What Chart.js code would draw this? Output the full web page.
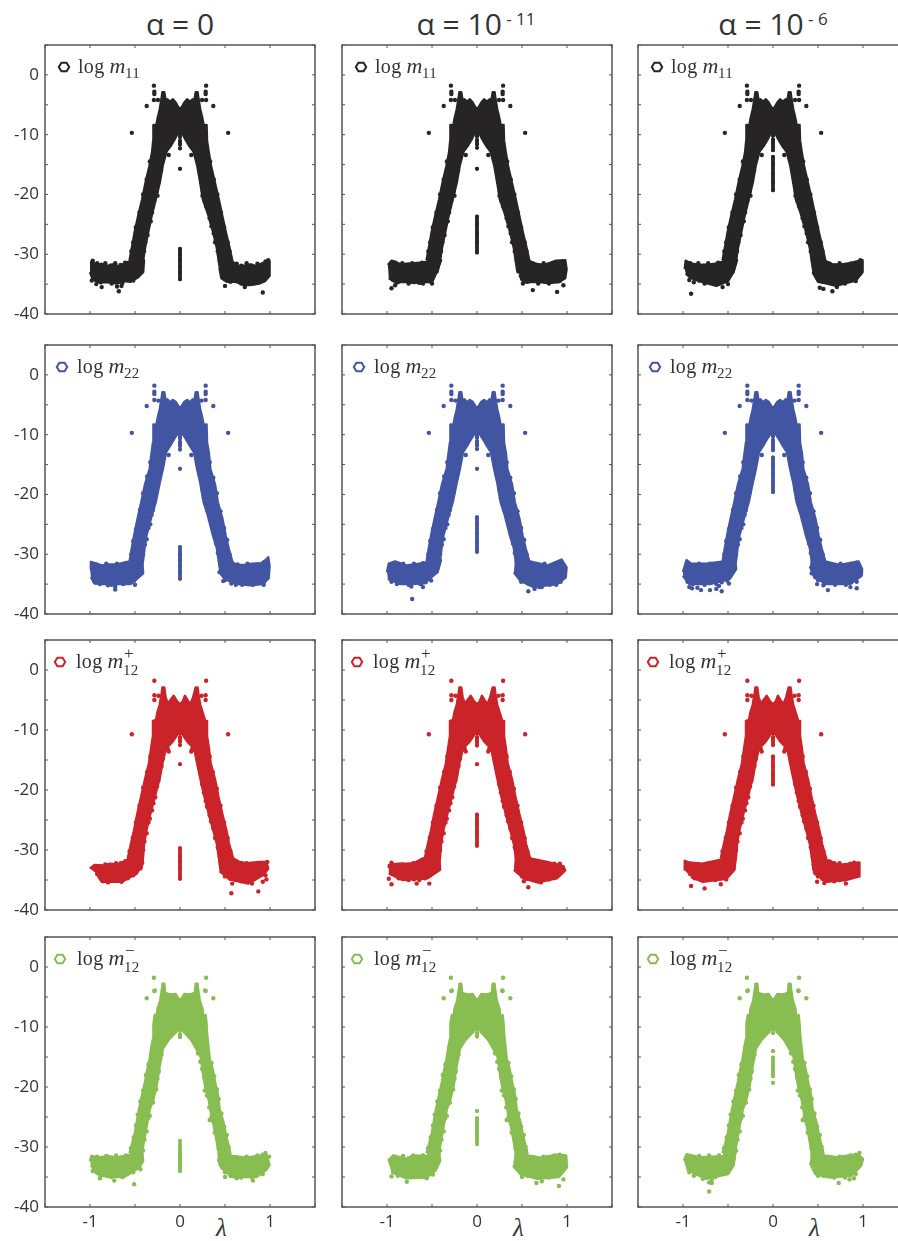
<!DOCTYPE html>
<html>
<head>
<meta charset="utf-8">
<title>log m scatter panels</title>
<script src="https://cdn.jsdelivr.net/npm/chart.js@4"></script>
<style>
  html, body { margin: 0; padding: 0; background: #fff; }
  #page { position: relative; width: 898px; height: 1241px; overflow: hidden; }
  #page canvas { position: absolute; }
  .title { position: absolute; top: 3px; width: 240px; text-align: center; font: 30px "Open Sans", sans-serif; color: #333; white-space: nowrap; }
  .title sup { font-size: 17px; vertical-align: 10px; line-height: 0; }
  .legend { position: absolute; font: 20px "Liberation Serif", serif; color: #333; white-space: nowrap; line-height: 24px; letter-spacing: 0.3px; }
  .legend i { margin-left: 5px; font-size: 22px; }
  .legend .ss { position: absolute; font-size: 15px; line-height: 14px; }
  .lambda { position: absolute; top: 1214px; font: italic 25px "Liberation Serif", serif; color: #333; }
  svg { position: absolute; }
</style>
</head>
<body>
<div id="page"></div>
<script>
// axis ticks
const xTicks = [-1, 0, 1];
const yTicks = [-40, -30, -20, -10, 0];

// headers and legends
const columnTitles = ["\u03b1 = 0", "\u03b1 = 10<sup>&nbsp;- 11</sup>", "\u03b1 = 10<sup>&nbsp;- 6</sup>"];
const rowSubs = ["11", "22", "12", "12"];
const rowSups = ["", "", "+", "\u2212"];
const rowColors = ["#262425", "#4255a2", "#ca2329", "#88bd51"];

// silhouette of the dense cloud, read per row
const m11Core = [[-0.56,-31],[-0.53,-28.6],[-0.505,-26.4],[-0.47,-24],[-0.42,-20.8],[-0.385,-18.2],[-0.34,-15.3],[-0.31,-13],[-0.297,-11],[-0.295,-8.4],[-0.285,-8.4],[-0.27,-9],[-0.25,-7.4],[-0.225,-5.8],[-0.205,-4],[-0.195,-2.9],[-0.175,-2.9],[-0.16,-4.3],[-0.14,-4.1],[-0.11,-4.5],[-0.08,-4.1],[-0.05,-4.6],[-0.02,-5.4],[0,-5.7],[0.02,-5.4],[0.05,-4.6],[0.08,-4.1],[0.11,-4.5],[0.14,-4.1],[0.16,-4.3],[0.175,-2.9],[0.195,-2.9],[0.205,-4],[0.225,-5.8],[0.25,-7.4],[0.27,-9],[0.285,-8.4],[0.295,-8.4],[0.3,-11],[0.32,-13],[0.345,-15.3],[0.39,-18.2],[0.43,-20.8],[0.475,-24],[0.51,-26.4],[0.545,-28.6],[0.58,-31],[0.52,-33],[0.45,-33],[0.43,-31],[0.41,-29],[0.37,-26.4],[0.31,-23.2],[0.255,-20.8],[0.225,-18],[0.19,-15],[0.15,-12.8],[0.1,-11.8],[0.06,-10.8],[0.035,-10],[0.015,-9.5],[0,-9.7],[-0.015,-9.5],[-0.035,-10],[-0.06,-10.8],[-0.1,-11.8],[-0.15,-12.8],[-0.19,-15],[-0.225,-18],[-0.27,-20.8],[-0.31,-23.2],[-0.355,-26.4],[-0.39,-29],[-0.41,-31],[-0.44,-33],[-0.52,-33]];
const m22Core = [[-0.56,-31.2],[-0.535,-29],[-0.51,-26.9],[-0.47,-24],[-0.43,-21.3],[-0.39,-18.4],[-0.337,-15.7],[-0.315,-13],[-0.3,-11.3],[-0.295,-8.3],[-0.285,-8.3],[-0.27,-9],[-0.25,-7.4],[-0.225,-5.8],[-0.205,-4],[-0.195,-2.9],[-0.175,-2.9],[-0.16,-4.4],[-0.14,-4.1],[-0.11,-4.6],[-0.08,-4.2],[-0.05,-4.5],[-0.02,-5.2],[0,-5.6],[0.02,-5.2],[0.05,-4.5],[0.08,-4.2],[0.11,-4.6],[0.14,-4.1],[0.16,-4.4],[0.175,-2.9],[0.195,-2.9],[0.205,-4],[0.225,-5.8],[0.25,-7.4],[0.27,-9],[0.285,-8.3],[0.295,-8.3],[0.3,-11.3],[0.32,-13],[0.337,-15.7],[0.39,-18.4],[0.42,-21.3],[0.47,-24],[0.507,-26.9],[0.54,-29],[0.58,-31.2],[0.52,-33],[0.45,-33],[0.43,-31],[0.41,-29],[0.367,-26.9],[0.31,-23.5],[0.263,-21.3],[0.225,-18],[0.19,-15.7],[0.155,-12.9],[0.1,-11.6],[0.065,-10.7],[0.035,-10],[0.015,-9.6],[0,-9.8],[-0.015,-9.6],[-0.035,-10],[-0.065,-10.7],[-0.1,-11.6],[-0.155,-12.9],[-0.19,-15.7],[-0.225,-18],[-0.27,-21.3],[-0.32,-23.8],[-0.374,-26.9],[-0.395,-29],[-0.41,-31],[-0.44,-33],[-0.52,-33]];
const m12pCore = [[-0.58,-31.4],[-0.545,-29],[-0.51,-26.7],[-0.475,-24],[-0.43,-21],[-0.39,-18.3],[-0.344,-15.5],[-0.32,-13],[-0.3,-11],[-0.3,-8.5],[-0.265,-8.3],[-0.25,-7],[-0.225,-5.8],[-0.205,-4],[-0.195,-2.9],[-0.175,-2.9],[-0.16,-4.6],[-0.13,-5.7],[-0.115,-5.2],[-0.07,-4.3],[-0.03,-5.3],[0,-5.7],[0.03,-5.3],[0.055,-4.3],[0.09,-5.2],[0.115,-5.7],[0.145,-4.6],[0.175,-2.9],[0.195,-2.9],[0.205,-4.1],[0.225,-5.8],[0.25,-7],[0.28,-8.5],[0.3,-8.5],[0.3,-11],[0.32,-13],[0.34,-15.5],[0.39,-18.3],[0.425,-21],[0.47,-24],[0.515,-26.7],[0.545,-29],[0.59,-31.4],[0.52,-33.2],[0.45,-33.2],[0.43,-31],[0.41,-29],[0.37,-26.7],[0.32,-24],[0.27,-21],[0.225,-18],[0.19,-15.5],[0.165,-13.6],[0.13,-12.7],[0.08,-11.9],[0.04,-11],[0.015,-10.2],[0,-10.6],[-0.015,-10.2],[-0.04,-11],[-0.08,-11.9],[-0.13,-12.7],[-0.165,-13.6],[-0.195,-15.5],[-0.225,-18],[-0.278,-21],[-0.33,-24],[-0.374,-26.7],[-0.4,-29],[-0.41,-31],[-0.43,-33.2],[-0.52,-33.2]];
const m12mCore = [[-0.56,-31],[-0.53,-29.4],[-0.5,-27.6],[-0.48,-25.8],[-0.455,-23.7],[-0.425,-21.6],[-0.39,-19.2],[-0.365,-17.2],[-0.337,-15.3],[-0.32,-13.5],[-0.3,-12],[-0.295,-9.5],[-0.28,-8],[-0.265,-9.2],[-0.25,-7],[-0.22,-5.6],[-0.2,-3.6],[-0.195,-2.8],[-0.175,-2.8],[-0.165,-4.3],[-0.13,-4.5],[-0.09,-4.6],[-0.05,-4.5],[-0.02,-5.2],[0,-5.6],[0.02,-5.2],[0.05,-4.5],[0.09,-4.6],[0.13,-4.5],[0.165,-4.3],[0.175,-2.8],[0.195,-2.8],[0.2,-3.6],[0.22,-5.6],[0.25,-7],[0.265,-9.2],[0.285,-8],[0.295,-9.5],[0.3,-11],[0.33,-15.3],[0.365,-17.2],[0.39,-19.2],[0.425,-21.6],[0.44,-23.7],[0.485,-26],[0.51,-28],[0.56,-31],[0.52,-33],[0.44,-33],[0.43,-31],[0.41,-29.2],[0.38,-26.8],[0.35,-24.8],[0.32,-22.2],[0.285,-20.3],[0.255,-17.8],[0.23,-15],[0.18,-13.6],[0.125,-12.2],[0.08,-11.4],[0.04,-10.8],[0.015,-9.6],[0,-10],[-0.015,-9.6],[-0.04,-10.8],[-0.08,-11.4],[-0.13,-12.2],[-0.19,-13.6],[-0.225,-16.4],[-0.26,-19.8],[-0.295,-22],[-0.335,-23.7],[-0.37,-26.4],[-0.41,-29.8],[-0.42,-31],[-0.44,-33],[-0.52,-33]];

// rough edge of the cloud, slopes and tails
const m11Bumps = [[-0.4,-29.5],[-0.385,-28],[-0.36,-26.8],[-0.35,-25],[-0.325,-24.5],[-0.31,-23],[-0.3,-22],[-0.285,-21],[-0.26,-19.5],[-0.25,-18.2],[-0.235,-17.5],[-0.21,-16],[-0.195,-14.5],[0.42,-29.5],[0.39,-28],[0.375,-26.5],[0.35,-25.3],[0.33,-24],[0.32,-23],[0.29,-22],[0.27,-21],[0.255,-19.5],[0.24,-18],[0.23,-16.5],[0.2,-15],[-0.54,-29.5],[-0.52,-28],[-0.49,-25.5],[-0.45,-23],[-0.41,-20],[-0.37,-17.5],[-0.335,-14.5],[0.55,-29.5],[0.53,-28],[0.49,-25.5],[0.455,-23],[0.415,-20],[0.375,-17.5],[0.335,-14.5],[-0.92,-31.5],[-0.88,-31.9],[-0.83,-31.5],[-0.77,-31.9],[-0.72,-31.5],[-0.66,-31.8],[-0.61,-31.4],[0.63,-31.6],[0.68,-31.9],[0.74,-31.5],[0.8,-31.9],[0.86,-31.6],[0.92,-31.7],[-0.93,-34.3],[-0.88,-34.7],[-0.82,-34.4],[-0.76,-34.9],[-0.7,-34.4],[-0.64,-34.8],[-0.58,-34.3],[-0.52,-34.4],[0.5,-34.1],[0.56,-34.6],[0.62,-34.4],[0.68,-34.9],[0.74,-34.5],[0.8,-34.9],[0.86,-34.4],[0.92,-34.5]];
const m22Bumps = [[-0.41,-30],[-0.39,-28.4],[-0.37,-27.5],[-0.35,-25.6],[-0.33,-25],[-0.315,-23.4],[-0.3,-22.6],[-0.28,-21],[-0.265,-19.8],[-0.245,-18.6],[-0.23,-17.2],[-0.215,-16.4],[-0.2,-14.6],[0.42,-29.8],[0.4,-28.2],[0.37,-26.2],[0.35,-25],[0.335,-24.3],[0.31,-22.8],[0.295,-22],[0.265,-20.6],[0.25,-19.2],[0.24,-17.6],[0.22,-16.8],[0.2,-14.8],[-0.54,-30],[-0.52,-27.8],[-0.49,-25.8],[-0.445,-22.6],[-0.41,-19.8],[-0.365,-17],[-0.33,-14.6],[0.55,-30],[0.525,-27.6],[0.49,-25.6],[0.45,-22.8],[0.41,-19.8],[0.37,-17.2],[0.33,-14.6],[-0.93,-31.7],[-0.88,-32],[-0.82,-31.6],[-0.76,-32],[-0.7,-31.6],[-0.65,-31.9],[-0.6,-31.5],[0.64,-31.7],[0.69,-32],[0.75,-31.6],[0.81,-32],[0.87,-31.7],[0.93,-31.4],[-0.95,-34.6],[-0.89,-35],[-0.82,-34.7],[-0.76,-35.1],[-0.69,-34.7],[-0.63,-35],[-0.57,-34.7],[-0.51,-34.4],[0.5,-34.3],[0.57,-34.9],[0.63,-34.8],[0.69,-35.1],[0.75,-34.7],[0.81,-35.1],[0.87,-34.7],[0.93,-34.6]];
const m12pBumps = [[-0.41,-30],[-0.395,-28.6],[-0.37,-27.2],[-0.35,-25.4],[-0.335,-24.8],[-0.31,-23.4],[-0.295,-22.2],[-0.275,-21.2],[-0.255,-19.4],[-0.24,-18.4],[-0.225,-17],[-0.205,-16],[-0.19,-14.8],[0.42,-29.6],[0.39,-28],[0.37,-26.4],[0.345,-25.2],[0.33,-24.2],[0.3,-22.8],[0.285,-21.8],[0.265,-20.4],[0.245,-19],[0.235,-17.4],[0.215,-16.2],[0.195,-14.8],[-0.56,-30.2],[-0.525,-28],[-0.49,-25.4],[-0.45,-22.6],[-0.41,-19.6],[-0.365,-17],[-0.33,-14.4],[0.56,-30.2],[0.53,-28],[0.49,-25.4],[0.45,-22.6],[0.41,-19.8],[0.365,-17],[0.33,-14.4],[-0.94,-32.7],[-0.88,-32.8],[-0.83,-32.4],[-0.77,-32.6],[-0.71,-32.2],[-0.66,-32.2],[-0.61,-31.9],[0.63,-31.9],[0.68,-32.2],[0.74,-32.2],[0.8,-32.5],[0.86,-32.3],[0.92,-32.3],[-0.92,-34],[-0.87,-34.7],[-0.82,-34.8],[-0.76,-35],[-0.7,-34.9],[-0.64,-35],[-0.58,-34.7],[-0.52,-34.2],[0.5,-34.4],[0.56,-34.8],[0.62,-35],[0.68,-35.2],[0.74,-35],[0.8,-34.9],[0.86,-34.4],[0.92,-33.8]];
const m12mBumps = [[-0.41,-30.6],[-0.395,-28.8],[-0.37,-27.4],[-0.355,-25.2],[-0.335,-24.8],[-0.325,-22.8],[-0.3,-22.6],[-0.285,-20.6],[-0.265,-20.4],[-0.25,-18.6],[-0.235,-17.4],[-0.22,-15.4],[-0.205,-14.6],[0.43,-30.2],[0.41,-28],[0.385,-27.6],[0.36,-25.6],[0.35,-23.6],[0.325,-23.4],[0.3,-21.4],[0.275,-20.6],[0.27,-18.4],[0.245,-17],[0.225,-15.8],[0.2,-14.4],[-0.545,-30.2],[-0.515,-28.4],[-0.49,-26.4],[-0.47,-24.6],[-0.44,-22.4],[-0.41,-20.6],[-0.38,-18],[-0.35,-16.2],[0.54,-30],[0.52,-28],[0.49,-26.6],[0.46,-24.4],[0.43,-22],[0.41,-20.4],[0.38,-18.2],[0.35,-16],[-0.92,-31.6],[-0.87,-31.9],[-0.82,-31.5],[-0.76,-31.9],[-0.71,-31.4],[-0.65,-31.8],[-0.6,-31.4],[0.63,-31.7],[0.68,-31.9],[0.74,-31.6],[0.8,-31.9],[0.86,-31.4],[0.92,-31.3],[-0.93,-34.2],[-0.88,-34.8],[-0.82,-34.4],[-0.76,-35],[-0.7,-34.6],[-0.64,-35],[-0.58,-34.4],[-0.52,-34.2],[0.5,-34.2],[0.56,-34.8],[0.62,-34.6],[0.68,-35.1],[0.74,-34.7],[0.8,-35.1],[0.86,-34.6],[0.92,-34.5]];

// isolated points that all three columns of a row share
const m11Strays = [[-0.29,-1.8],[0.29,-1.8],[-0.285,-2.8],[-0.285,-3.2],[0.285,-2.8],[0.285,-3.2],[-0.29,-4.2],[0.29,-4.2],[-0.245,-4.2],[0.245,-4.2],[-0.37,-5.2],[0.37,-5.2],[-0.535,-9.7],[0.535,-9.7],[-0.125,-13.4],[0.125,-13.4],[-0.25,-20.2],[0.25,-20.2]];
const m22Strays = [[-0.285,-1.8],[0.285,-1.8],[-0.285,-2.8],[-0.285,-3.2],[0.285,-2.8],[0.285,-3.2],[-0.285,-4.2],[0.285,-4.2],[-0.24,-4.3],[0.24,-4.3],[-0.37,-5.2],[0.37,-5.2],[-0.535,-9.7],[0.535,-9.7],[-0.125,-13.4],[0.125,-13.4]];
const m12pStrays = [[-0.285,-1.8],[0.29,-1.8],[-0.285,-4.2],[0.285,-4.2],[-0.285,-5],[0.285,-5],[-0.24,-4.3],[0.24,-4.3],[-0.535,-10.7],[0.535,-10.7],[-0.135,-13.2],[0.135,-13.2],[-0.125,-13.6],[0.125,-13.6],[-0.145,-12.9],[0.145,-12.9]];
const m12mStrays = [[-0.29,-1.8],[0.29,-1.8],[-0.285,-4],[-0.28,-3.9],[0.285,-4],[0.28,-3.9],[-0.37,-5.2],[0.37,-5.2],[-0.335,-17],[-0.35,-19.5],[0.34,-19.5],[0.33,-25.5],[0.35,-25]];

// row 1, log m11 (null in a center list breaks the bar)
const m11A0Left = [[-1,-31.3],[-0.96,-31.4],[-0.93,-31.9],[-0.87,-31.6],[-0.82,-32],[-0.75,-31.7],[-0.68,-32],[-0.62,-31.6],[-0.55,-31.1],[-0.4,-31],[-0.41,-33],[-0.47,-33.9],[-0.55,-34.6],[-0.62,-34.5],[-0.7,-34.9],[-0.8,-34.7],[-0.9,-34.7],[-0.97,-34.2],[-1,-33]];
const m11A0Right = [[0.42,-31],[0.58,-31.2],[0.65,-32],[0.72,-31.9],[0.78,-31.7],[0.85,-32],[0.9,-31.6],[0.95,-31.3],[0.99,-31.2],[0.995,-33.6],[0.95,-34.4],[0.88,-34.9],[0.8,-35.1],[0.72,-35.2],[0.62,-34.6],[0.52,-34.6],[0.46,-34],[0.44,-32.4]];
const m11A0Specks = [[-0.93,-35],[-0.87,-35.5],[-0.7,-35.4],[-0.68,-36.2],[-0.65,-35.3],[-0.98,-34.4],[0.5,-35.3],[0.72,-35.5],[0.92,-36.4],[0.98,-31],[0.95,-31.2],[-0.97,-31.1]];
const m11A0Center = [-9.8,-10.4,null,-11,-11.7,null,-12.3,null,-15.7,null,-29.1,-30,-31,-32,-33,-34.2];
const m11A1Left = [[-0.99,-31.8],[-0.95,-31.1],[-0.9,-31.3],[-0.85,-31.7],[-0.78,-31.6],[-0.7,-31.5],[-0.6,-31.4],[-0.5,-31],[-0.4,-31],[-0.45,-33],[-0.5,-34.7],[-0.6,-34.6],[-0.7,-34.8],[-0.8,-34.6],[-0.9,-34.7],[-0.98,-34]];
const m11A1Right = [[0.42,-31],[0.58,-31.1],[0.65,-31.6],[0.74,-31.8],[0.82,-31.4],[0.88,-31.1],[0.98,-31],[0.995,-32.5],[0.98,-34],[0.9,-34.7],[0.78,-34.8],[0.68,-34.6],[0.52,-34.7],[0.47,-33.5]];
const m11A1Specks = [[-0.95,-35.7],[-0.91,-35.2],[-0.6,-34.9],[-0.5,-34.9],[0.62,-36],[0.89,-36.3],[0.96,-35.2],[0.51,-34.9]];
const m11A1Center = [-9.7,-10.3,null,-10.9,-11.6,null,-12.2,null,-15.7,null,-23.7,-25,-26.5,-28,-29.7];
const m11A2Left = [[-0.98,-32.5],[-0.97,-31.1],[-0.9,-31.6],[-0.8,-31.8],[-0.7,-31.7],[-0.6,-31.5],[-0.52,-31],[-0.4,-31],[-0.44,-33],[-0.5,-34.5],[-0.58,-35],[-0.63,-35.3],[-0.72,-34.9],[-0.82,-34.5],[-0.92,-33.9],[-0.97,-33.2]];
const m11A2Right = [[0.42,-31],[0.58,-31.1],[0.66,-31.7],[0.76,-31.7],[0.85,-31.5],[0.93,-31.2],[0.99,-31],[0.995,-33],[0.92,-34.4],[0.82,-34.8],[0.7,-35.3],[0.6,-34.9],[0.5,-34.6],[0.44,-33]];
const m11A2Specks = [[-0.91,-36.6],[0.66,-36.2],[0.52,-35.6],[0.56,-35.8],[-0.5,-35],[-0.56,-35.5],[0.71,-35.5],[0.97,-31]];
const m11A2Center = [-9.6,-10.2,null,-10.8,-11.4,-12,-12.6,null,-13.7,-15,-16.5,-18,-19.3];

// row 2, log m22
const m22A0Left = [[-1,-32.5],[-0.99,-31.3],[-0.93,-31.6],[-0.86,-31.9],[-0.78,-31.7],[-0.7,-31.7],[-0.62,-31.4],[-0.55,-31.2],[-0.42,-31],[-0.41,-33.2],[-0.5,-34.4],[-0.55,-35],[-0.7,-35],[-0.85,-35],[-0.95,-34.9],[-0.99,-33.8]];
const m22A0Right = [[0.42,-31],[0.58,-31.3],[0.63,-31.8],[0.72,-31.8],[0.8,-31.6],[0.9,-31.5],[0.96,-30.9],[0.98,-30.5],[0.995,-32],[0.985,-34],[0.92,-35],[0.78,-35.2],[0.65,-35],[0.5,-34.2],[0.44,-33]];
const m22A0Specks = [[-0.72,-35.9],[-0.72,-35.4],[-0.49,-33],[0.44,-33],[0.48,-34.5],[0.93,-35.1],[-0.5,-35.1],[0.62,-35.1],[-0.8,-35.2]];
const m22A0Center = [-10,-10.6,null,-11.2,-11.9,null,-12.5,null,-15.7,null,-28.8,-30,-31,-32,-33,-34.1];
const m22A1Left = [[-1,-33],[-0.98,-31.6],[-0.91,-31.2],[-0.78,-31.9],[-0.6,-31.5],[-0.52,-31.2],[-0.4,-31],[-0.44,-33],[-0.58,-34.8],[-0.72,-35],[-0.85,-35],[-0.99,-34.1]];
const m22A1Right = [[0.42,-31],[0.59,-31.2],[0.78,-31.9],[0.94,-30.9],[0.995,-32.2],[0.985,-33.9],[0.89,-35],[0.63,-35.5],[0.48,-34.4],[0.41,-33]];
const m22A1Specks = [[-0.72,-37.5],[-0.73,-35.4],[-0.6,-35.5],[-0.62,-35],[0.49,-34.6],[0.57,-36.2],[0.64,-35.8],[0.72,-35.5],[0.69,-35.5],[0.88,-35.1]];
const m22A1Center = [-9.9,-10.5,null,-11.1,-11.8,null,-12.4,null,-15.7,null,-23.8,-25,-26.5,-28,-29.6];
const m22A2Left = [[-1,-33],[-0.96,-31],[-0.91,-31.6],[-0.74,-31.6],[-0.59,-31.3],[-0.42,-31],[-0.41,-32.5],[-0.48,-34.1],[-0.7,-35],[-0.93,-35],[-1,-33.6]];
const m22A2Right = [[0.42,-31],[0.58,-31.2],[0.74,-31.8],[0.95,-31.2],[0.99,-32.5],[0.985,-33.6],[0.85,-35],[0.6,-35],[0.46,-33.9],[0.41,-32]];
const m22A2Specks = [[-0.93,-35.5],[-0.9,-35.7],[-0.84,-35.6],[-0.8,-36],[-0.7,-36],[-0.63,-35.8],[-0.57,-36.2],[-0.48,-33],[-0.49,-34.9],[0.43,-33.2],[0.49,-35],[0.56,-35.2],[0.61,-36],[0.86,-35.5],[0.93,-35.7],[-0.6,-35.3]];
const m22A2Center = [-9.7,-10.3,null,-10.9,-11.5,-12.1,-12.6,null,-13.8,-15,-16.5,-18,-19.6];

// row 3, log m12+
const m12pA0Left = [[-1,-33.1],[-0.95,-32.5],[-0.85,-32.6],[-0.78,-32.3],[-0.68,-32.4],[-0.62,-31.9],[-0.55,-31.3],[-0.42,-31],[-0.41,-32.2],[-0.48,-33.9],[-0.65,-35.3],[-0.87,-35.3],[-0.93,-33.9]];
const m12pA0Right = [[0.42,-31],[0.59,-31.4],[0.66,-32],[0.74,-32.2],[0.88,-32],[0.96,-32],[0.98,-33.1],[0.92,-34.2],[0.76,-35.6],[0.55,-34.9],[0.44,-33.5]];
const m12pA0Specks = [[-0.49,-33.8],[-0.85,-35.2],[-0.8,-35.4],[-0.65,-35.3],[0.57,-37.2],[0.87,-36.9],[0.92,-35.3],[0.96,-34.9],[0.95,-34.2],[0.8,-35.6],[0.97,-32],[0.58,-35.6]];
const m12pA0Center = [-10,-10.6,null,-11.2,-11.9,null,-12.5,null,-15.7,null,-29.7,-31,-32,-33,-34.8];
const m12pA1Left = [[-0.98,-33],[-0.98,-32.5],[-0.88,-32.3],[-0.78,-32.3],[-0.7,-32.2],[-0.6,-31.4],[-0.42,-31],[-0.41,-33.3],[-0.55,-34.7],[-0.83,-35],[-0.98,-33.9]];
const m12pA1Right = [[0.42,-31],[0.59,-31.4],[0.78,-32],[0.96,-32.7],[0.98,-33.4],[0.89,-34.7],[0.67,-35.4],[0.52,-34.7],[0.41,-33.3]];
const m12pA1Specks = [[-0.98,-34.8],[-0.95,-35.7],[-0.67,-35.6],[-0.53,-35.6],[0.52,-35.2],[0.57,-36.2],[0.71,-35.4],[-0.95,-32.1]];
const m12pA1Center = [-10,-10.6,null,-11.2,-11.9,-12.6,null,-15.7,null,-24.1,-25.5,-27,-29.3];
const m12pA2Left = [[-0.98,-33.4],[-0.98,-31.8],[-0.93,-32.1],[-0.79,-32.3],[-0.6,-31.7],[-0.42,-31],[-0.43,-33.3],[-0.52,-34.8],[-0.78,-35.3],[-0.91,-34.5]];
const m12pA2Right = [[0.42,-31],[0.6,-31.7],[0.74,-32.5],[0.96,-32.1],[0.96,-34.4],[0.81,-35],[0.59,-35.3],[0.46,-33.9],[0.44,-32.3]];
const m12pA2Specks = [[-0.91,-36],[-0.76,-36.4],[-0.58,-35.7],[-0.51,-33.4],[-0.52,-34.9],[0.49,-35.3],[0.57,-35.5],[0.81,-35.6],[0.55,-34.8],[0.9,-32.1]];
const m12pA2Center = [-10,-10.6,null,-11.2,-11.8,-12.5,null,-14.4,-16,-17.5,-19.1];

// row 4, log m12-
const m12mA0Left = [[-1,-32.4],[-0.985,-31.5],[-0.9,-31.8],[-0.8,-31.5],[-0.7,-31.8],[-0.6,-31.4],[-0.42,-31],[-0.41,-32.3],[-0.45,-33.4],[-0.62,-35],[-0.8,-35],[-0.92,-34.5],[-0.99,-33]];
const m12mA0Right = [[0.42,-31],[0.58,-31.5],[0.74,-31.8],[0.86,-31.5],[0.96,-31.3],[0.995,-33],[0.96,-33.8],[0.85,-35],[0.58,-35],[0.46,-33.5],[0.42,-32]];
const m12mA0Specks = [[-0.73,-35.6],[-0.51,-36.2],[-0.44,-33.7],[0.95,-31],[0.99,-31.6],[0.81,-35.6],[0.5,-35],[0.63,-35.2],[-0.89,-35.2],[-0.97,-34]];
const m12mA0Center = [-10,-10.6,null,-11.2,-11.7,null,-29,null,-29.6,-31,-32,-33,-34];
const m12mA1Left = [[-0.99,-32.3],[-0.93,-31.4],[-0.79,-32],[-0.71,-31.4],[-0.54,-31.5],[-0.42,-31],[-0.41,-32.3],[-0.46,-33.9],[-0.56,-35.1],[-0.79,-35.2],[-0.95,-34.2]];
const m12mA1Right = [[0.42,-31],[0.56,-31.4],[0.7,-31.8],[0.89,-31.3],[0.99,-31.4],[1,-33.4],[0.91,-35],[0.67,-35.3],[0.48,-34.5],[0.4,-33.1]];
const m12mA1Specks = [[-0.95,-34.9],[-0.78,-35.8],[-0.56,-35.2],[-0.49,-34.6],[0.91,-36.5],[0.66,-36],[0.72,-35.7],[0.96,-35.4],[0.5,-35]];
const m12mA1Center = [-9.8,-10.4,null,-11,-11.6,null,-24,null,-25.2,-26.5,-28,-29.5];
const m12mA2Left = [[-0.99,-32.3],[-0.96,-31.2],[-0.82,-31.7],[-0.58,-31.6],[-0.42,-31],[-0.44,-33.1],[-0.5,-34.5],[-0.74,-35.3],[-0.86,-34.5],[-0.96,-33.7]];
const m12mA2Right = [[0.42,-31],[0.57,-31.4],[0.71,-31.7],[0.94,-31.2],[1,-32],[0.98,-33.1],[0.87,-34.8],[0.63,-35.1],[0.47,-34.5],[0.41,-32.6]];
const m12mA2Specks = [[-0.71,-37.4],[-0.71,-35.9],[-0.68,-36],[-0.78,-35.3],[-0.68,-35.4],[0.73,-36],[0.85,-35.4],[0.9,-35.2],[0.5,-34.8],[0.96,-31]];
const m12mA2Center = [-9.8,-10.4,null,-11,null,-14,null,-15.1,-16.5,-18.2,null,-19.3];

const rowCores = [m11Core, m22Core, m12pCore, m12mCore];
const rowBumps = [m11Bumps, m22Bumps, m12pBumps, m12mBumps];
const rowStrays = [m11Strays, m22Strays, m12pStrays, m12mStrays];
const panelTails = [
  [[m11A0Left, m11A0Right], [m11A1Left, m11A1Right], [m11A2Left, m11A2Right]],
  [[m22A0Left, m22A0Right], [m22A1Left, m22A1Right], [m22A2Left, m22A2Right]],
  [[m12pA0Left, m12pA0Right], [m12pA1Left, m12pA1Right], [m12pA2Left, m12pA2Right]],
  [[m12mA0Left, m12mA0Right], [m12mA1Left, m12mA1Right], [m12mA2Left, m12mA2Right]]
];
const panelSpecks = [
  [m11A0Specks, m11A1Specks, m11A2Specks],
  [m22A0Specks, m22A1Specks, m22A2Specks],
  [m12pA0Specks, m12pA1Specks, m12pA2Specks],
  [m12mA0Specks, m12mA1Specks, m12mA2Specks]
];
const panelCenters = [
  [m11A0Center, m11A1Center, m11A2Center],
  [m22A0Center, m22A1Center, m22A2Center],
  [m12pA0Center, m12pA1Center, m12pA2Center],
  [m12mA0Center, m12mA1Center, m12mA2Center]
];

// page layout
const colLefts = [45, 342, 638];
const rowTops = [45, 345, 640, 937];
const rowHeights = [269, 269, 270, 270];
const plotWidth = 270;
const marginLeft = 45;
const marginBottom = 34;
const marginTop = 5;
const marginRight = 5;
const lambdaLefts = [216, 513, 809];
const titleCenters = [180, 476, 773];
const legendMarkerX = [19, 17, 15, 15];
const legendTextX = [33, 32, 31, 32];

const page = document.getElementById("page");

// box and inward ticks on all four sides, like a boxed Matlab axes
const framePlugin = {
  id: "frame",
  afterDatasetsDraw(chart) {
    const { ctx, chartArea: a, scales } = chart;
    ctx.save();
    ctx.strokeStyle = "#555";
    ctx.lineWidth = 1.5;
    ctx.strokeRect(a.left, a.top, a.right - a.left, a.bottom - a.top);
    ctx.lineWidth = 1;
    ctx.beginPath();
    scales.x.ticks.forEach(t => {
      const px = scales.x.getPixelForValue(t.value);
      ctx.moveTo(px, a.bottom); ctx.lineTo(px, a.bottom - 3);
      ctx.moveTo(px, a.top); ctx.lineTo(px, a.top + 3);
    });
    scales.y.ticks.forEach(t => {
      const py = scales.y.getPixelForValue(t.value);
      ctx.moveTo(a.left, py); ctx.lineTo(a.left + 3, py);
      ctx.moveTo(a.right, py); ctx.lineTo(a.right - 3, py);
    });
    ctx.stroke();
    ctx.restore();
  }
};

function shapeDataset(points, color) {
  return {
    data: points,
    showLine: true,
    fill: "shape",
    backgroundColor: color,
    borderColor: color,
    borderWidth: 2.5,
    borderJoinStyle: "round",
    pointRadius: 0,
    tension: 0
  };
}

function dotDataset(points, color, radius) {
  return {
    data: points,
    showLine: false,
    backgroundColor: color,
    borderWidth: 0,
    pointRadius: radius
  };
}

function barDataset(yValues, color) {
  return {
    data: yValues.map(y => [0, y]),
    showLine: true,
    spanGaps: false,
    borderColor: color,
    backgroundColor: color,
    borderWidth: 3.8,
    borderCapStyle: "round",
    pointRadius: 2,
    pointBorderWidth: 0,
    tension: 0
  };
}

function createPanel(row, col) {
  const color = rowColors[row];
  const height = rowHeights[row];
  const canvas = document.createElement("canvas");
  canvas.width = marginLeft + plotWidth + marginRight;
  canvas.height = marginTop + height + marginBottom;
  canvas.style.left = (colLefts[col] - marginLeft) + "px";
  canvas.style.top = (rowTops[row] - marginTop) + "px";
  page.appendChild(canvas);

  new Chart(canvas, {
    type: "scatter",
    data: {
      datasets: [
        shapeDataset(rowCores[row], color),
        shapeDataset(panelTails[row][col][0], color),
        shapeDataset(panelTails[row][col][1], color),
        dotDataset(rowBumps[row], color, 2.2),
        dotDataset(rowStrays[row], color, 2.2),
        dotDataset(panelSpecks[row][col], color, 2.2),
        barDataset(panelCenters[row][col], color)
      ]
    },
    plugins: [framePlugin],
    options: {
      responsive: false,
      animation: false,
      layout: { autoPadding: false, padding: { top: marginTop, right: marginRight } },
      plugins: { legend: { display: false }, tooltip: { enabled: false } },
      scales: {
        x: {
          type: "linear",
          min: -1.5,
          max: 1.5,
          afterFit: s => { s.height = marginBottom; s.paddingLeft = 0; s.paddingRight = 0; },
          grid: { display: false, drawTicks: false },
          border: { display: false },
          ticks: {
            display: row === 3,
            stepSize: 0.5,
            autoSkip: false,
            maxRotation: 0,
            padding: 5,
            color: "#333",
            font: { family: "Open Sans", size: 17 },
            callback: v => xTicks.includes(v) ? String(v) : ""
          }
        },
        y: {
          type: "linear",
          min: -40,
          max: 5,
          afterFit: s => { s.width = marginLeft; s.paddingTop = 0; s.paddingBottom = 0; },
          grid: { display: false, drawTicks: false },
          border: { display: false },
          ticks: {
            display: col === 0,
            stepSize: 5,
            autoSkip: false,
            padding: 6,
            color: "#333",
            font: { family: "Open Sans", size: 17 },
            callback: v => yTicks.includes(v) ? String(v) : ""
          }
        }
      }
    }
  });

  addLegend(row, col);
}

function addLegend(row, col) {
  const color = rowColors[row];
  const left = colLefts[col];
  const top = rowTops[row];

  const marker = document.createElementNS("http://www.w3.org/2000/svg", "svg");
  marker.setAttribute("width", 14);
  marker.setAttribute("height", 14);
  marker.style.left = (left + legendMarkerX[row] - 7) + "px";
  marker.style.top = (top + 22 - 7) + "px";
  marker.innerHTML = `<polygon points="1.8,7 4.4,2.8 9.6,2.8 12.2,7 9.6,11.2 4.4,11.2" fill="none" stroke="${color}" stroke-width="2"/>`;
  page.appendChild(marker);

  const label = document.createElement("div");
  label.className = "legend";
  label.style.left = (left + legendTextX[row]) + "px";
  label.style.top = (top + 9) + "px";
  const supPart = rowSups[row] ? `<span class="ss" style="left:48px;top:-2px;font-size:17px">${rowSups[row]}</span>` : "";
  label.innerHTML = `log<i>m</i><span class="ss" style="left:47px;top:${rowSups[row] ? 14 : 12}px">${rowSubs[row]}</span>${supPart}`;
  page.appendChild(label);
}

function addTitles() {
  columnTitles.forEach((title, i) => {
    const div = document.createElement("div");
    div.className = "title";
    div.style.left = (titleCenters[i] - 120) + "px";
    div.innerHTML = title;
    page.appendChild(div);

    const lambda = document.createElement("div");
    lambda.className = "lambda";
    lambda.style.left = lambdaLefts[i] + "px";
    lambda.textContent = "\u03bb";
    page.appendChild(lambda);
  });
}

function initializePage() {
  addTitles();
  rowTops.forEach((_, row) => {
    colLefts.forEach((_, col) => createPanel(row, col));
  });
}

initializePage();
</script>
</body>
</html>
